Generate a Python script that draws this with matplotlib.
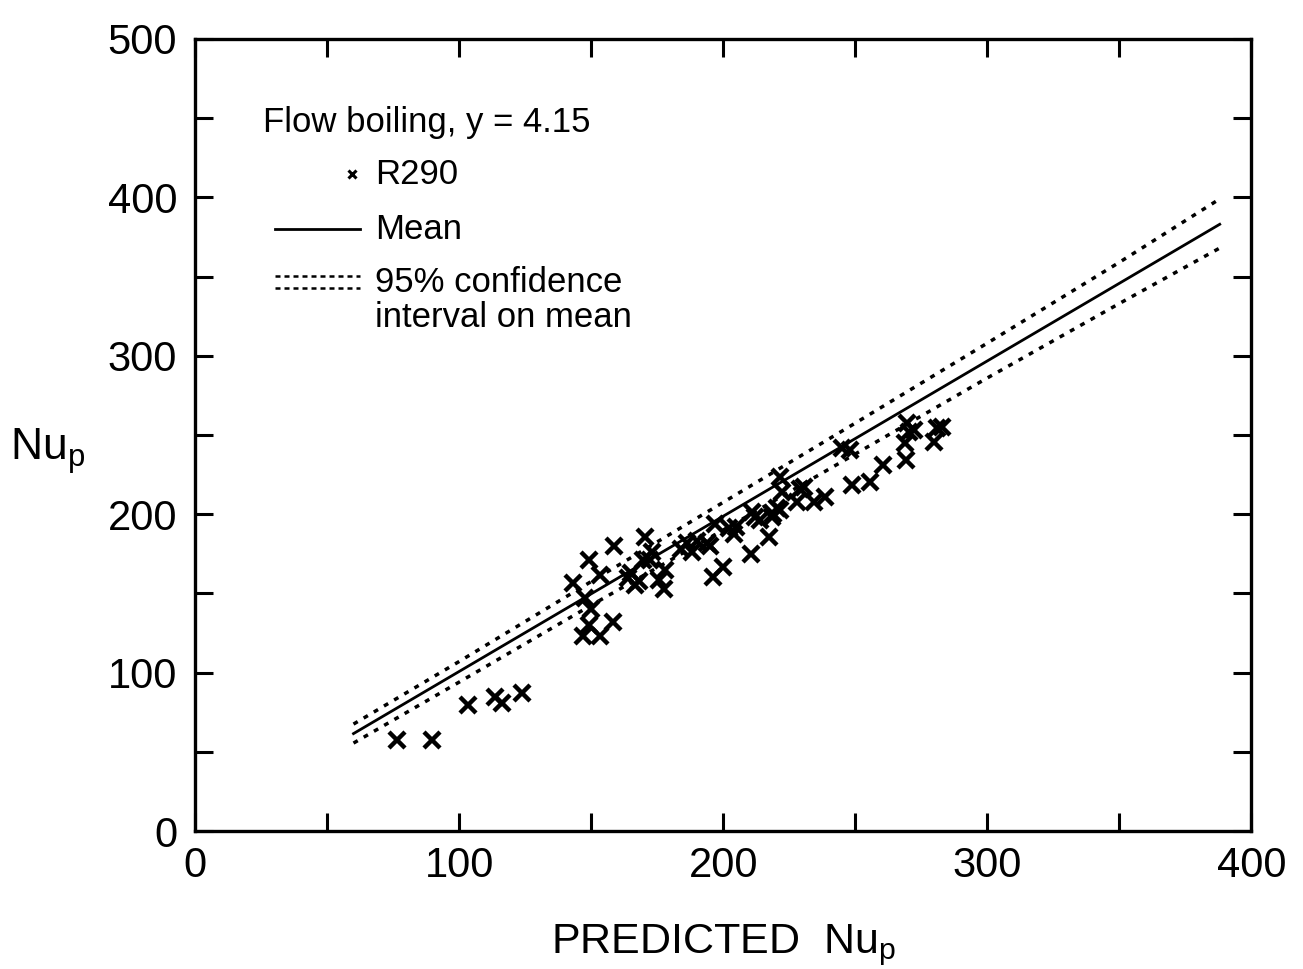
import matplotlib
matplotlib.use("Agg")
import matplotlib.pyplot as plt
from matplotlib.ticker import MultipleLocator

plt.rcParams['font.family'] = ['Liberation Sans', 'DejaVu Sans']
plt.rcParams['mathtext.fontset'] = 'custom'
plt.rcParams['mathtext.rm'] = 'Liberation Sans'

# R290 flow boiling data (predicted Nu_p, measured Nu_p)
pred_nu = [76.4, 89.7, 103.3, 113.6, 116.2, 123.7,
           143.3, 147.7, 149.0, 158.7, 147.0, 153.4, 149.0, 158.4, 153.4, 150.0,
           164.0, 166.7, 165.0, 168.0, 170.5, 172.3, 169.7, 175.5, 177.4, 173.0, 178.0,
           186.2, 184.0, 190.0, 193.8, 188.0, 196.3, 199.9, 197.0, 195.0,
           202.0, 203.9, 205.0, 210.5, 210.9, 212.1, 214.0, 217.2, 218.4, 220.3,
           219.0, 221.6, 222.2, 221.6,
           227.9, 229.2, 230.4, 234.2, 238.6, 245.0, 248.1, 248.7,
           255.4, 260.5, 269.3, 268.9, 269.6, 272.1, 270.2, 279.7, 281.0, 282.8]
meas_nu = [57.4, 57.4, 79.5, 84.8, 80.6, 86.9,
           156.4, 146.9, 171.0, 180.0, 123.0, 123.0, 130.0, 132.0, 161.6, 140.0,
           159.5, 155.3, 163.0, 158.0, 185.4, 171.0, 171.0, 158.5, 153.0, 176.0, 165.0,
           181.6, 178.0, 183.0, 181.5, 176.0, 160.5, 166.8, 194.1, 180.0,
           191.0, 187.8, 192.0, 174.9, 201.6, 198.4, 196.3, 185.4, 198.4, 203.6,
           200.4, 202.7, 214.0, 223.6,
           207.8, 216.2, 217.3, 207.8, 211.0, 241.5, 240.5, 218.4,
           220.5, 231.0, 234.5, 244.7, 257.3, 253.2, 252.1, 245.8, 254.1, 255.1]

# mean fit and 95% confidence bounds
mean_x = [60, 388]
mean_y = [61.5, 383.0]
ci_x = [60, 100, 150, 200, 250, 300, 350, 388]
ci_upper = [67.5, 107.0, 157.5, 207.5, 257.5, 308.0, 359.0, 399.0]
ci_lower = [55.5, 94.0, 142.5, 190.0, 238.0, 286.0, 333.0, 368.0]

fig = plt.figure(figsize=(13.03, 9.69), dpi=100)
ax = fig.add_axes([0.1497, 0.1424, 0.8107, 0.8174])

ax.plot(mean_x, mean_y, color='black', lw=2.0)
ax.plot(ci_x, ci_upper, color='black', lw=2.5, dashes=(1.4, 2.0))
ax.plot(ci_x, ci_lower, color='black', lw=2.5, dashes=(1.4, 2.0))
ax.plot(pred_nu, meas_nu, 'x', color='black', ms=11, mew=3.2)

ax.set_xlim(0, 400)
ax.set_ylim(0, 500)
ax.xaxis.set_major_locator(MultipleLocator(100))
ax.xaxis.set_minor_locator(MultipleLocator(50))
ax.yaxis.set_major_locator(MultipleLocator(100))
ax.yaxis.set_minor_locator(MultipleLocator(50))
ax.tick_params(which='both', direction='in', top=True, right=True,
               length=13, width=2.2)
ax.tick_params(axis='x', labelsize=30, pad=11)
ax.tick_params(axis='y', labelsize=30, pad=13)
for sp in ax.spines.values():
    sp.set_linewidth(2.4)

ax.set_xlabel(r'PREDICTED  Nu$_\mathregular{p}$', fontsize=31, labelpad=26)
ax.text(-0.175, 0.48, r'Nu$_\mathregular{p}$', transform=ax.transAxes,
        fontsize=32, ha='left', va='center')

# legend block
fs = 25
ax.text(0.0644, 0.895, 'Flow boiling, y = 4.15', transform=ax.transAxes,
        fontsize=fs, va='center')
ax.plot([0.1487], [0.8295], 'x', color='black', ms=6, mew=2.2,
        transform=ax.transAxes)
ax.text(0.1705, 0.8295, 'R290', transform=ax.transAxes, fontsize=fs, va='center')
ax.plot([0.0758, 0.1562], [0.760, 0.760], color='black', lw=2.0,
        transform=ax.transAxes)
ax.text(0.1705, 0.760, 'Mean', transform=ax.transAxes, fontsize=fs, va='center')
for yy in (0.7008, 0.6856):
    ax.plot([0.0758, 0.1562], [yy, yy], color='black', lw=1.8,
            dashes=(2.0, 1.6), transform=ax.transAxes)
ax.text(0.1705, 0.693, '95% confidence', transform=ax.transAxes,
        fontsize=fs, va='center')
ax.text(0.1705, 0.6477, 'interval on mean', transform=ax.transAxes,
        fontsize=fs, va='center')

fig.savefig('out.png', dpi=100)
